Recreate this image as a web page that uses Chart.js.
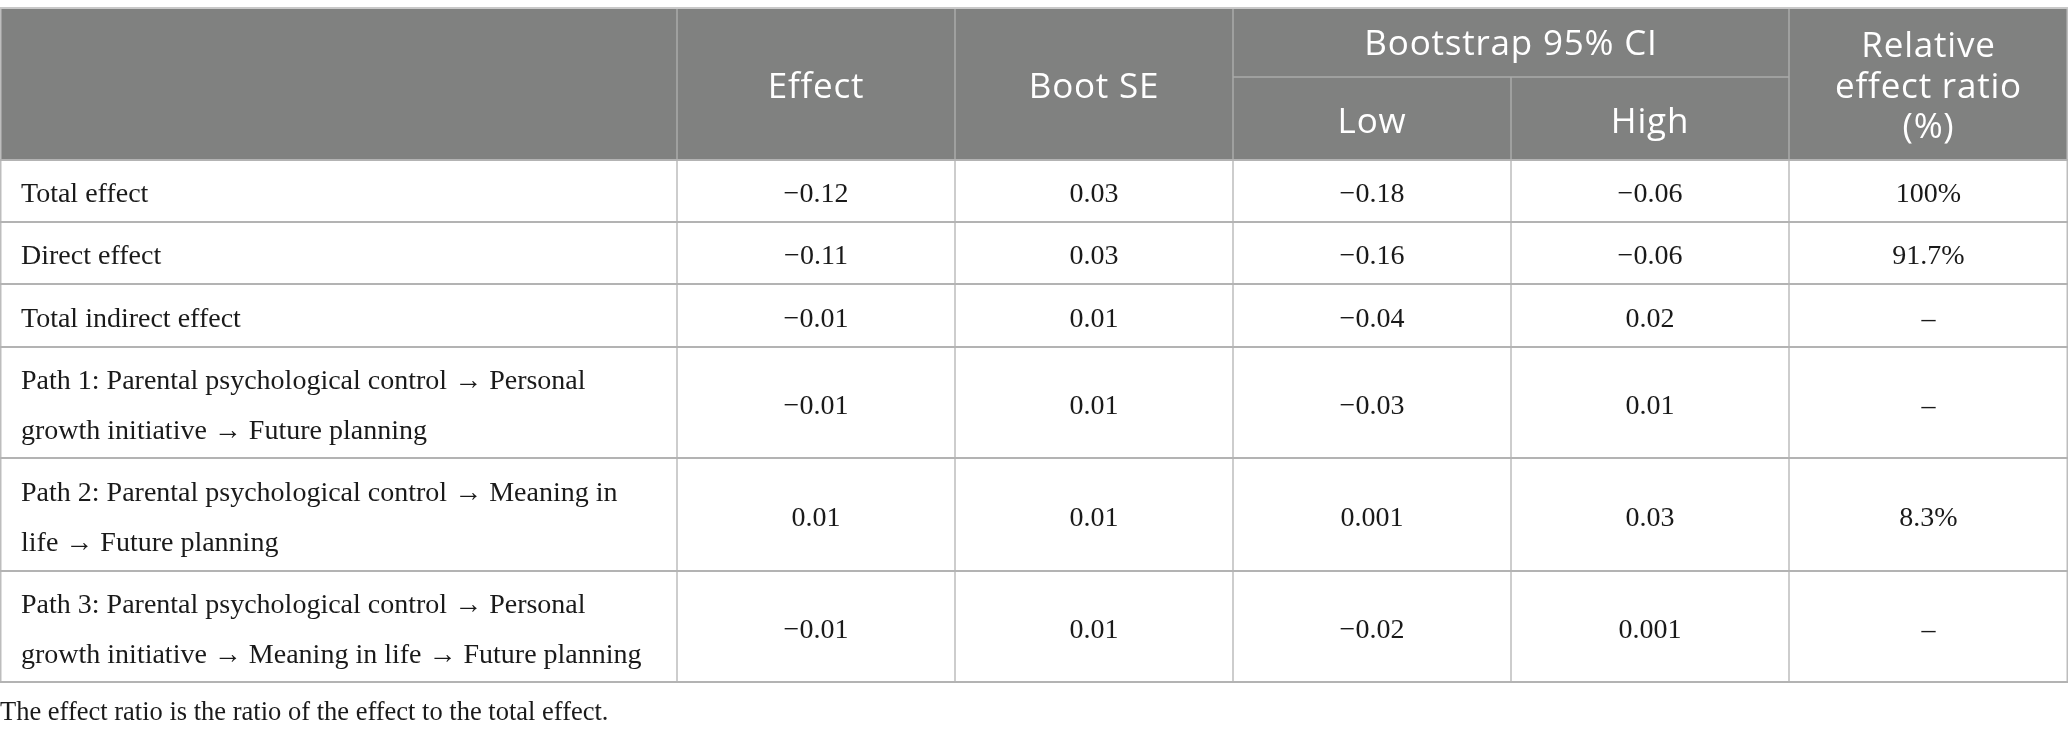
<!DOCTYPE html>
<html>
<head>
<meta charset="utf-8">
<script src="https://cdn.jsdelivr.net/npm/chart.js@4.4.1/dist/chart.umd.min.js"></script>
<style>
  html, body { margin: 0; padding: 0; background: #ffffff; }
  #tbl { display: block; }
</style>
</head>
<body>
<canvas id="tbl" width="2068" height="739"></canvas>
<script>
// table content
var rowLabels = [
  ["Total effect"],
  ["Direct effect"],
  ["Total indirect effect"],
  ["Path 1: Parental psychological control \u2192 Personal", "growth initiative \u2192 Future planning"],
  ["Path 2: Parental psychological control \u2192 Meaning in", "life \u2192 Future planning"],
  ["Path 3: Parental psychological control \u2192 Personal", "growth initiative \u2192 Meaning in life \u2192 Future planning"]
];
var effect = ["\u22120.12", "\u22120.11", "\u22120.01", "\u22120.01", "0.01", "\u22120.01"];
var bootSE = ["0.03", "0.03", "0.01", "0.01", "0.01", "0.01"];
var ciLow = ["\u22120.18", "\u22120.16", "\u22120.04", "\u22120.03", "0.001", "\u22120.02"];
var ciHigh = ["\u22120.06", "\u22120.06", "0.02", "0.01", "0.03", "0.001"];
var ratio = ["100%", "91.7%", "\u2013", "\u2013", "8.3%", "\u2013"];
var footnote = "The effect ratio is the ratio of the effect to the total effect.";

// layout (canvas units)
var colEdges = [0, 677, 955, 1233, 1511, 1789, 2068];
var rowEdges = [8, 160, 222, 284, 347, 458, 571, 682];
var subLineY = 77;
var bodyFont = "28px 'Liberation Serif', serif";
var noteFont = "26.5px 'Liberation Serif', serif";
var headFont = "35px 'Open Sans', sans-serif";

var tablePlugin = {
  id: "tablePlugin",
  afterDraw: function (chart) {
    var c = chart.ctx;
    var xs = chart.scales.x, ys = chart.scales.y;
    var X = function (v) { return xs.getPixelForValue(v); };
    var Y = function (v) { return ys.getPixelForValue(v); };
    var cx = function (i) { return (X(colEdges[i]) + X(colEdges[i + 1])) / 2; };
    var last = rowEdges[rowEdges.length - 1];
    c.save();

    // header background
    c.fillStyle = "#808180";
    c.fillRect(X(0), Y(rowEdges[0]), X(2068) - X(0), Y(rowEdges[1]) - Y(rowEdges[0]));

    // header separators
    c.strokeStyle = "#a9aaa9";
    c.lineWidth = 1.5;
    c.beginPath();
    for (var i = 1; i < colEdges.length - 1; i++) {
      var top = (i === 4) ? subLineY : rowEdges[0];
      c.moveTo(X(colEdges[i]), Y(top));
      c.lineTo(X(colEdges[i]), Y(rowEdges[1]));
    }
    c.moveTo(X(colEdges[3]), Y(subLineY));
    c.lineTo(X(colEdges[5]), Y(subLineY));
    c.stroke();

    // body grid
    c.strokeStyle = "#bdbdbd";
    c.beginPath();
    for (var k = 1; k < colEdges.length - 1; k++) {
      c.moveTo(X(colEdges[k]), Y(rowEdges[1]));
      c.lineTo(X(colEdges[k]), Y(last));
    }
    c.moveTo(X(0) + 0.75, Y(rowEdges[0]));
    c.lineTo(X(0) + 0.75, Y(last));
    c.moveTo(X(2068) - 0.75, Y(rowEdges[0]));
    c.lineTo(X(2068) - 0.75, Y(last));
    c.stroke();
    c.strokeStyle = "#b3b3b3";
    c.lineWidth = 2;
    c.beginPath();
    for (var r = 1; r < rowEdges.length; r++) {
      c.moveTo(X(0), Y(rowEdges[r]));
      c.lineTo(X(2068), Y(rowEdges[r]));
    }
    c.stroke();
    c.strokeStyle = "#c8c8c8";
    c.beginPath();
    c.moveTo(X(0), Y(rowEdges[0]));
    c.lineTo(X(2068), Y(rowEdges[0]));
    c.stroke();

    // header text
    c.fillStyle = "#ffffff";
    c.font = headFont;
    if ("letterSpacing" in c) c.letterSpacing = "0.8px";
    c.textAlign = "center";
    c.textBaseline = "alphabetic";
    c.fillText("Effect", cx(1), Y(98));
    c.fillText("Boot SE", cx(2), Y(98));
    c.fillText("Bootstrap 95% CI", (X(colEdges[3]) + X(colEdges[5])) / 2, Y(55));
    c.fillText("Low", cx(3), Y(133));
    c.fillText("High", cx(4), Y(133));
    c.fillText("Relative", cx(5), Y(57));
    c.fillText("effect ratio", cx(5), Y(98));
    c.fillText("(%)", cx(5), Y(138));
    if ("letterSpacing" in c) c.letterSpacing = "0px";

    // body text
    c.fillStyle = "#1a1a1a";
    c.font = bodyFont;
    var cols = [effect, bootSE, ciLow, ciHigh, ratio];
    for (var j = 0; j < rowLabels.length; j++) {
      var mid = (rowEdges[j + 1] + rowEdges[j + 2]) / 2;
      var lines = rowLabels[j];
      c.textAlign = "left";
      for (var l = 0; l < lines.length; l++) {
        var ly = mid + (l - (lines.length - 1) / 2) * 50 + 11;
        c.fillText(lines[l], X(21), Y(ly));
      }
      c.textAlign = "center";
      for (var m = 0; m < cols.length; m++) {
        c.fillText(cols[m][j], cx(m + 1), Y(mid + 11));
      }
    }

    // footnote
    c.font = noteFont;
    c.textAlign = "left";
    c.fillText(footnote, X(0), Y(720));
    c.restore();
  }
};

var chart = new Chart(document.getElementById("tbl").getContext("2d"), {
  type: "scatter",
  data: { datasets: [] },
  options: {
    responsive: false,
    animation: false,
    devicePixelRatio: 1,
    layout: { padding: 0 },
    plugins: { legend: { display: false }, tooltip: { enabled: false } },
    scales: {
      x: { type: "linear", min: 0, max: 2068, display: false },
      y: { type: "linear", min: 0, max: 739, reverse: true, display: false }
    }
  },
  plugins: [tablePlugin]
});
</script>
</body>
</html>
